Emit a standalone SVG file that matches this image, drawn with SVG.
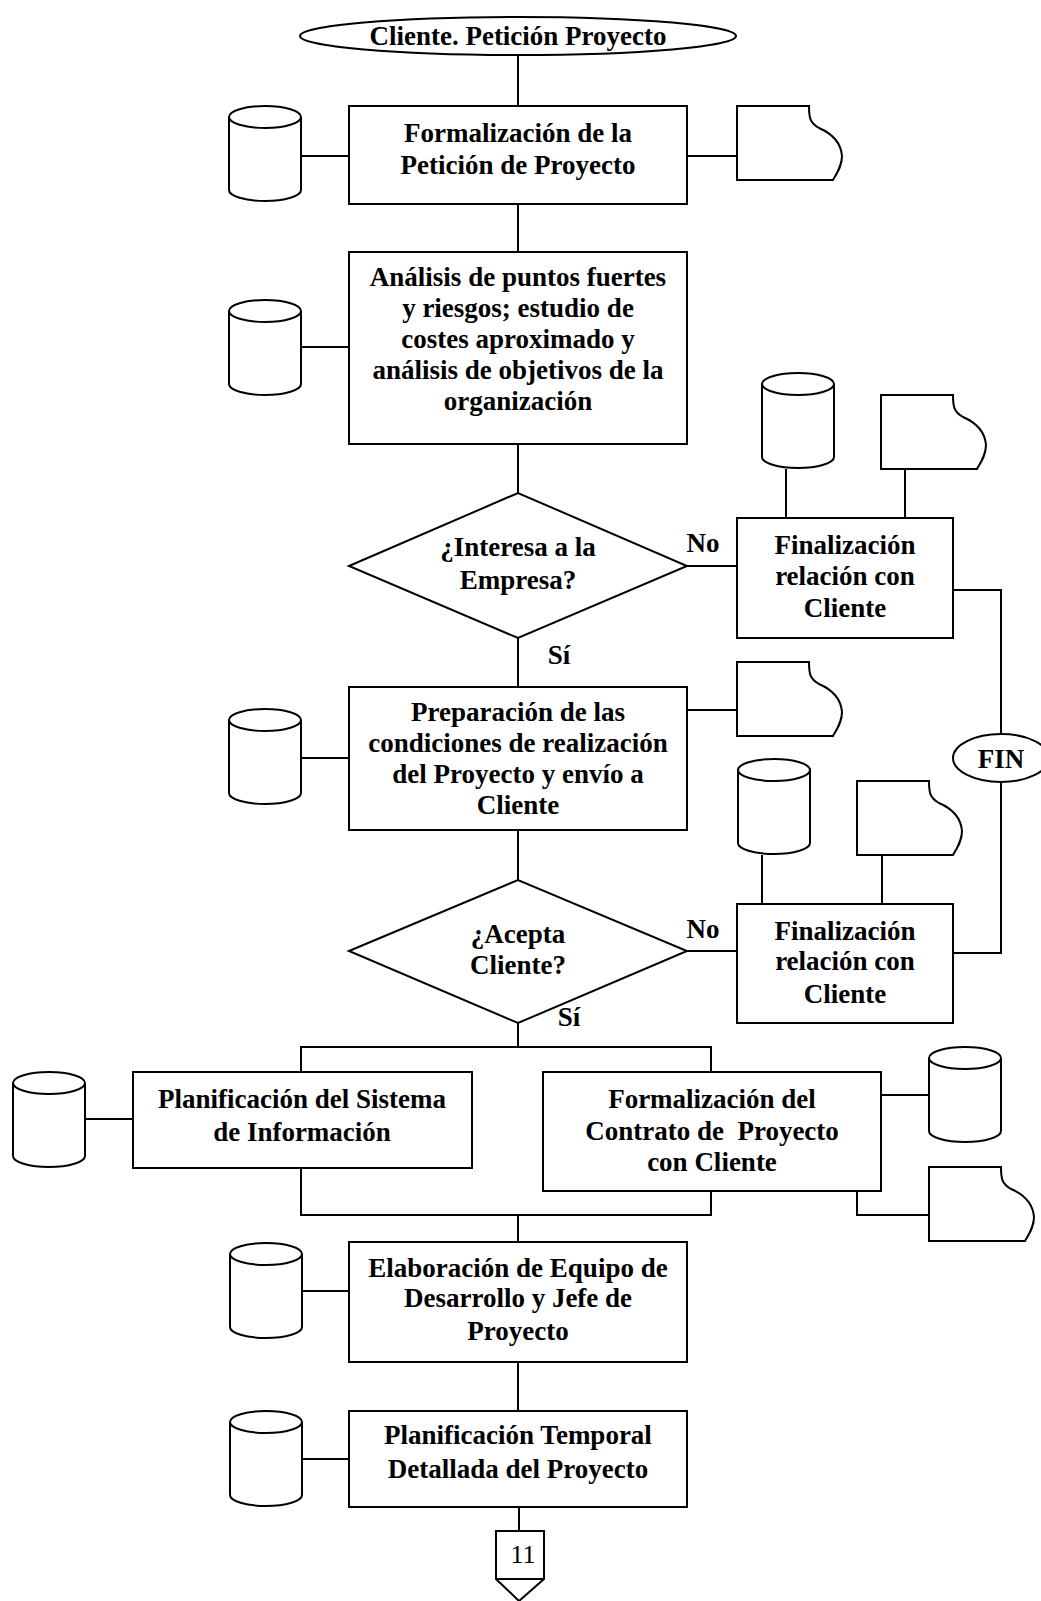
<svg xmlns="http://www.w3.org/2000/svg" xmlns:xlink="http://www.w3.org/1999/xlink" width="1041" height="1601" viewBox="0 0 1041 1601">
<style>
  .s { fill: #fff; stroke: #000; stroke-width: 2; }
  .ln { fill: none; stroke: #000; stroke-width: 2; }
  .t { font-family: "Liberation Serif", "Times New Roman", serif; font-weight: bold; font-size: 27px; text-anchor: middle; fill: #000; }
  .n { font-family: "Liberation Serif", "Times New Roman", serif; font-size: 26px; text-anchor: middle; fill: #000; }
</style>
<defs>
  <g id="cyl">
    <path class="s" d="M0,11 A36,11 0 0 1 72,11 V84 A36,11 0 0 1 0,84 Z"/>
    <path class="ln" d="M0,11 A36,11 0 0 0 72,11"/>
  </g>
  <g id="doc">
    <path class="s" d="M0,0 H72 C72,12 73,17 82,22 C96,28 104,38 105,50 C105,60 100,67 96,74 H0 Z"/>
  </g>
</defs>
<rect width="1041" height="1601" fill="#fff"/>

<g id="connectors">
  <path class="ln" d="M518,55 V106"/>
  <path class="ln" d="M301,156 H349"/>
  <path class="ln" d="M687,156 H737"/>
  <path class="ln" d="M518,204 V252"/>
  <path class="ln" d="M301,347 H349"/>
  <path class="ln" d="M518,444 V493"/>
  <path class="ln" d="M687,566 H737"/>
  <path class="ln" d="M786,469 V518"/>
  <path class="ln" d="M905,469 V518"/>
  <path class="ln" d="M953,590 H1001 V734"/>
  <path class="ln" d="M518,638 V687"/>
  <path class="ln" d="M301,758 H349"/>
  <path class="ln" d="M687,710 H737"/>
  <path class="ln" d="M1001,782 V953 H953"/>
  <path class="ln" d="M518,830 V880"/>
  <path class="ln" d="M687,951 H737"/>
  <path class="ln" d="M762,855 V904"/>
  <path class="ln" d="M882,854 V904"/>
  <path class="ln" d="M518,1023 V1047"/>
  <path class="ln" d="M301,1072 V1047 H711 V1072"/>
  <path class="ln" d="M85,1119 H133"/>
  <path class="ln" d="M881,1095 H929"/>
  <path class="ln" d="M857,1191 V1215 H929"/>
  <path class="ln" d="M301,1168 V1215 H711 V1191"/>
  <path class="ln" d="M518,1215 V1242"/>
  <path class="ln" d="M302,1291 H349"/>
  <path class="ln" d="M518,1362 V1411"/>
  <path class="ln" d="M302,1459 H349"/>
  <path class="ln" d="M519,1507 V1531"/>
  <text class="t" x="703" y="552">No</text>
  <text class="t" x="559" y="664">Sí</text>
  <text class="t" x="703" y="938">No</text>
  <text class="t" x="569" y="1026">Sí</text>
</g>

<g id="start">
  <ellipse class="s" cx="518" cy="36" rx="218" ry="19"/>
  <text class="t" x="518" y="45">Cliente. Petición Proyecto</text>
</g>

<g id="formalizacion">
  <rect class="s" x="349" y="106" width="338" height="98"/>
  <text class="t" x="518" y="142">Formalización de la</text>
  <text class="t" x="518" y="174">Petición de Proyecto</text>
</g>
<g id="db1"><use xlink:href="#cyl" x="229" y="106"/></g>
<g id="doc1"><use xlink:href="#doc" x="737" y="106"/></g>

<g id="analisis">
  <rect class="s" x="349" y="252" width="338" height="192"/>
  <text class="t" x="518" y="286">Análisis de puntos fuertes</text>
  <text class="t" x="518" y="317">y riesgos; estudio de</text>
  <text class="t" x="518" y="348">costes aproximado y</text>
  <text class="t" x="518" y="379">análisis de objetivos de la</text>
  <text class="t" x="518" y="410">organización</text>
</g>
<g id="db2"><use xlink:href="#cyl" x="229" y="300"/></g>

<g id="interesa">
  <polygon class="s" points="349,566 518,493 687,566 518,638"/>
  <text class="t" x="518" y="556">¿Interesa a la</text>
  <text class="t" x="518" y="589">Empresa?</text>
</g>

<g id="fin1">
  <rect class="s" x="737" y="518" width="216" height="120"/>
  <text class="t" x="845" y="554">Finalización</text>
  <text class="t" x="845" y="585">relación con</text>
  <text class="t" x="845" y="617">Cliente</text>
</g>
<g id="db3"><use xlink:href="#cyl" x="762" y="373"/></g>
<g id="doc3"><use xlink:href="#doc" x="881" y="395"/></g>

<g id="preparacion">
  <rect class="s" x="349" y="687" width="338" height="143"/>
  <text class="t" x="518" y="721">Preparación de las</text>
  <text class="t" x="518" y="752">condiciones de realización</text>
  <text class="t" x="518" y="783">del Proyecto y envío a</text>
  <text class="t" x="518" y="814">Cliente</text>
</g>
<g id="db4"><use xlink:href="#cyl" x="229" y="709"/></g>
<g id="doc4"><use xlink:href="#doc" x="737" y="662"/></g>

<g id="finEnd">
  <ellipse class="s" cx="1001" cy="758" rx="48" ry="24"/>
  <text class="t" x="1001" y="768">FIN</text>
</g>

<g id="acepta">
  <polygon class="s" points="349,951 518,880 687,951 518,1023"/>
  <text class="t" x="518" y="943">¿Acepta</text>
  <text class="t" x="518" y="974">Cliente?</text>
</g>

<g id="fin2">
  <rect class="s" x="737" y="904" width="216" height="119"/>
  <text class="t" x="845" y="940">Finalización</text>
  <text class="t" x="845" y="970">relación con</text>
  <text class="t" x="845" y="1003">Cliente</text>
</g>
<g id="db5"><use xlink:href="#cyl" x="738" y="759"/></g>
<g id="doc5"><use xlink:href="#doc" x="857" y="781"/></g>

<g id="planSI">
  <rect class="s" x="133" y="1072" width="339" height="96"/>
  <text class="t" x="302" y="1108">Planificación del Sistema</text>
  <text class="t" x="302" y="1141">de Información</text>
</g>
<g id="db6"><use xlink:href="#cyl" x="13" y="1072"/></g>

<g id="contrato">
  <rect class="s" x="543" y="1072" width="338" height="119"/>
  <text class="t" x="712" y="1108">Formalización del</text>
  <text class="t" x="712" y="1140" style="white-space:pre">Contrato de  Proyecto</text>
  <text class="t" x="712" y="1171">con Cliente</text>
</g>
<g id="db7"><use xlink:href="#cyl" x="929" y="1047"/></g>
<g id="doc7"><use xlink:href="#doc" x="929" y="1167"/></g>

<g id="equipo">
  <rect class="s" x="349" y="1242" width="338" height="120"/>
  <text class="t" x="518" y="1277">Elaboración de Equipo de</text>
  <text class="t" x="518" y="1307">Desarrollo y Jefe de</text>
  <text class="t" x="518" y="1340">Proyecto</text>
</g>
<g id="db8"><use xlink:href="#cyl" x="230" y="1243"/></g>

<g id="planTemporal">
  <rect class="s" x="349" y="1411" width="338" height="96"/>
  <text class="t" x="518" y="1444">Planificación Temporal</text>
  <text class="t" x="518" y="1478">Detallada del Proyecto</text>
</g>
<g id="db9"><use xlink:href="#cyl" x="230" y="1411"/></g>

<g id="offpage">
  <polygon class="s" points="496,1531 544,1531 544,1579 519,1601 496,1579"/>
  <path class="ln" d="M496,1579 H544"/>
  <text class="n" x="523" y="1563">11</text>
</g>
</svg>
